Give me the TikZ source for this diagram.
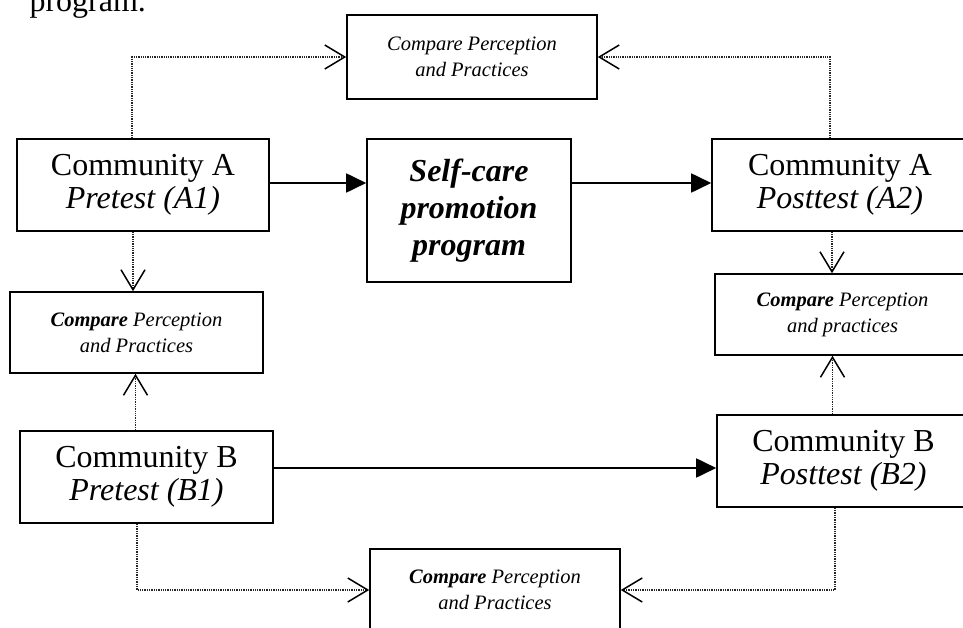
\documentclass[tikz,border=0pt]{standalone}
\usepackage{fontspec}
\setmainfont{Liberation Serif}
\usetikzlibrary{arrows.meta}
\tikzset{
  box/.style={draw, line width=1.6pt, rectangle, inner sep=0pt, align=center},
  combox/.style={box, font=\fontsize{32}{33}\selectfont},
  cmpbox/.style={box, font=\fontsize{20.5}{26}\selectfont\itshape},
  progbox/.style={box, font=\fontsize{32}{37}\selectfont\bfseries\itshape},
  solidarr/.style={line width=1.8pt, -{Triangle[length=20pt,width=19pt]}},
  dotarr/.style={draw=black!85, line width=1.5pt, dash pattern=on 1.3pt off 1.0pt,
    -{Straight Barb[length=20pt,width=24pt,line width=1.5pt,color=black]}}
}
\begin{document}
\begin{tikzpicture}[x=1pt,y=-1pt]
\useasboundingbox (0,0) rectangle (963,628);
\node[anchor=base west, font=\fontsize{32}{33}\selectfont] (cap) at (26,12) {program.};
\node[cmpbox, minimum width=250pt, minimum height=84pt] (topc) at (472,57)
  {Compare Perception\\and Practices};
\node[combox, minimum width=252pt, minimum height=92pt] (a1) at (143,185)
  {Community A\\\textit{Pretest (A1)}};
\node[progbox, minimum width=204pt, minimum height=143pt] (sc) at (469,210.5)
  {Self-care\\promotion\\program};
\node[combox, minimum width=256pt, minimum height=92pt] (a2) at (840,185)
  {Community A\\\textit{Posttest (A2)}};
\node[cmpbox, minimum width=253pt, minimum height=81pt] (leftc) at (136.5,332.5)
  {\textbf{Compare} Perception\\and Practices};
\node[cmpbox, minimum width=255pt, minimum height=81pt] (rightc) at (842.5,314.5)
  {\textbf{Compare} Perception\\and practices};
\node[combox, minimum width=253pt, minimum height=92pt] (b1) at (146.5,477)
  {Community B\\\textit{Pretest (B1)}};
\node[combox, minimum width=253pt, minimum height=92pt] (b2) at (843.5,461)
  {Community B\\\textit{Posttest (B2)}};
\node[cmpbox, minimum width=250pt, minimum height=82pt] (botc) at (495,590)
  {\textbf{Compare} Perception\\and Practices};
% solid arrows
\draw[solidarr] ([yshift=2pt]a1.east) -- ([yshift=2pt]a1.east -| sc.west);
\draw[solidarr] ([yshift=2pt]a1.east -| sc.east) -- ([yshift=2pt]a1.east -| a2.west);
\draw[solidarr] ([yshift=9pt]b1.east) -- ([yshift=9pt]b1.east -| b2.west);
% dotted arrows
\draw[dotarr] ([xshift=-11pt]a1.north) |- (topc.west);
\draw[dotarr] ([xshift=-10pt]a2.north) |- (topc.east);
\draw[dotarr] ([xshift=-10pt]a1.south) -- ([xshift=-10pt]a1.south |- leftc.north);
\draw[dotarr] ([xshift=-11pt]b1.north) -- ([xshift=-11pt]b1.north |- leftc.south);
\draw[dotarr] ([xshift=-8pt]a2.south) -- ([xshift=-8pt]a2.south |- rightc.north);
\draw[dotarr] ([xshift=-11pt]b2.north) -- ([xshift=-11pt]b2.north |- rightc.south);
\draw[dotarr] ([xshift=-9.5pt]b1.south) |- (botc.west);
\draw[dotarr] ([xshift=-8.5pt]b2.south) |- (botc.east);
\end{tikzpicture}
\end{document}
